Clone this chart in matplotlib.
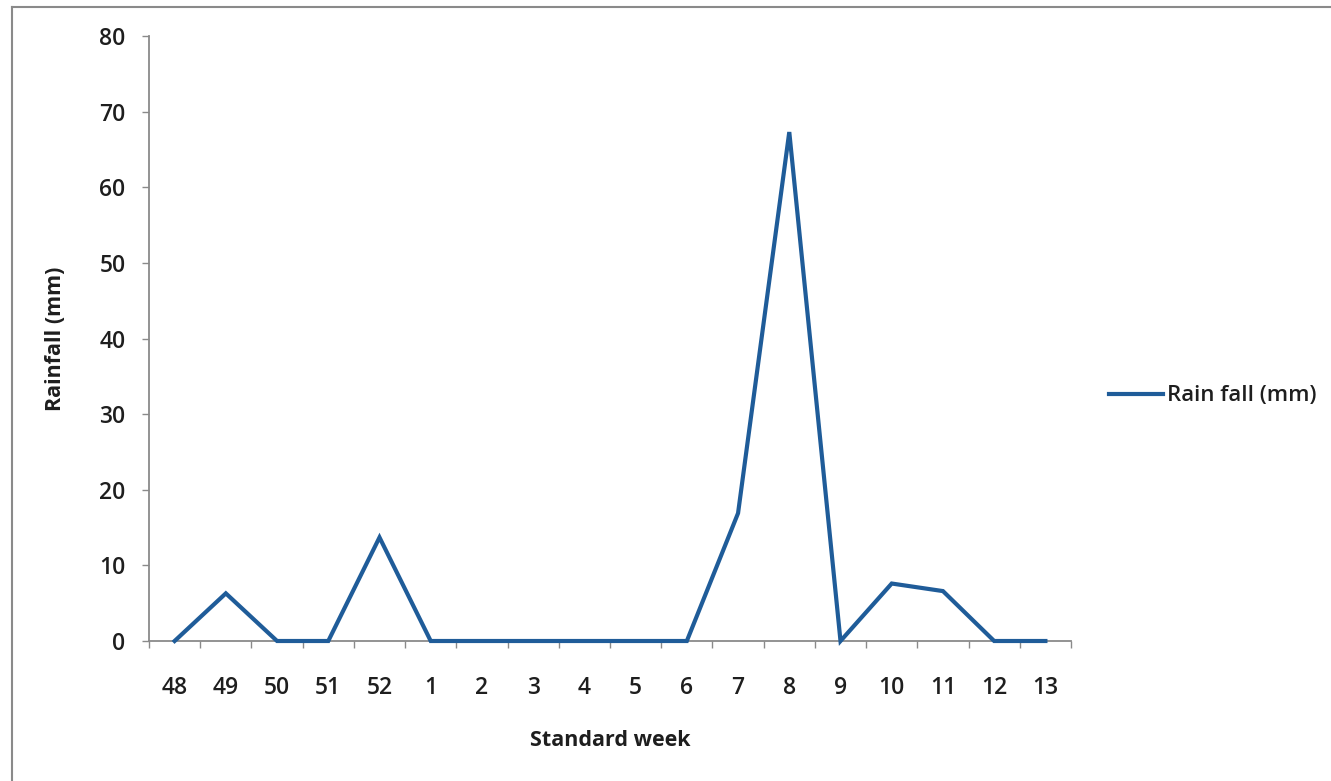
import matplotlib

matplotlib.use("Agg")
import matplotlib.pyplot as plt
from matplotlib.lines import Line2D
from matplotlib.ticker import FixedLocator

weeks = ["48", "49", "50", "51", "52", "1", "2", "3", "4", "5", "6",
         "7", "8", "9", "10", "11", "12", "13"]
rain = [0, 6.3, 0, 0, 13.7, 0, 0, 0, 0, 0, 0, 16.9, 67.3, 0, 7.6, 6.6, 0, 0]

LINE = "#1f5c99"
AXIS = "#8a8a8a"
TEXT = "#1e1e1e"
plt.rcParams["font.family"] = ["Open Sans", "DejaVu Sans"]

fig = plt.figure(figsize=(13.31, 7.81), dpi=100)
ax = fig.add_axes([149 / 1331, 1 - 641 / 781, (1071 - 149) / 1331, (641 - 36) / 781])

xs = list(range(len(weeks)))
ax.plot(xs, rain, color=LINE, lw=3.0, solid_joinstyle="miter", label="Rain fall (mm)",
        clip_on=False, zorder=3)

ax.set_xlim(-0.5, len(weeks) - 0.5)
ax.set_ylim(0, 80)
ax.set_yticks(range(0, 81, 10))
ax.set_xticks(xs)
ax.set_xticklabels(weeks)
ax.xaxis.set_minor_locator(FixedLocator([i + 0.5 for i in range(-1, len(weeks))]))

for s in ["top", "right"]:
    ax.spines[s].set_visible(False)
for s in ["left", "bottom"]:
    ax.spines[s].set_color(AXIS)
    ax.spines[s].set_linewidth(1.3)

ax.tick_params(axis="y", length=5, width=1, color=AXIS, pad=12, labelsize=16.5, labelcolor=TEXT)
ax.tick_params(axis="x", which="major", length=0, pad=25, labelsize=16.5, labelcolor=TEXT)
ax.tick_params(axis="x", which="minor", length=5, width=1, color=AXIS, direction="out")
for lab in ax.get_xticklabels() + ax.get_yticklabels():
    lab.set_fontweight("semibold")

ax.set_ylabel("Rainfall (mm)", fontsize=15.5, fontweight="bold", color=TEXT, labelpad=24)
ax.set_xlabel("Standard week", fontsize=15.5, fontweight="bold", color=TEXT, labelpad=22)

leg = ax.legend(loc="center left", bbox_to_anchor=(1.02, 0.405), frameon=False, fontsize=16,
                handlelength=2.4, handletextpad=0.2, labelcolor=TEXT)
for t in leg.get_texts():
    t.set_fontweight("semibold")

# chart-area border (left and top edges visible in the crop)
fig.add_artist(Line2D([12 / 1331, 12 / 1331], [0, 1 - 7 / 781], color=AXIS, lw=1.5))
fig.add_artist(Line2D([12 / 1331, 1], [1 - 7 / 781, 1 - 7 / 781], color=AXIS, lw=1.5))

fig.savefig("out.png", dpi=100, facecolor="white")
